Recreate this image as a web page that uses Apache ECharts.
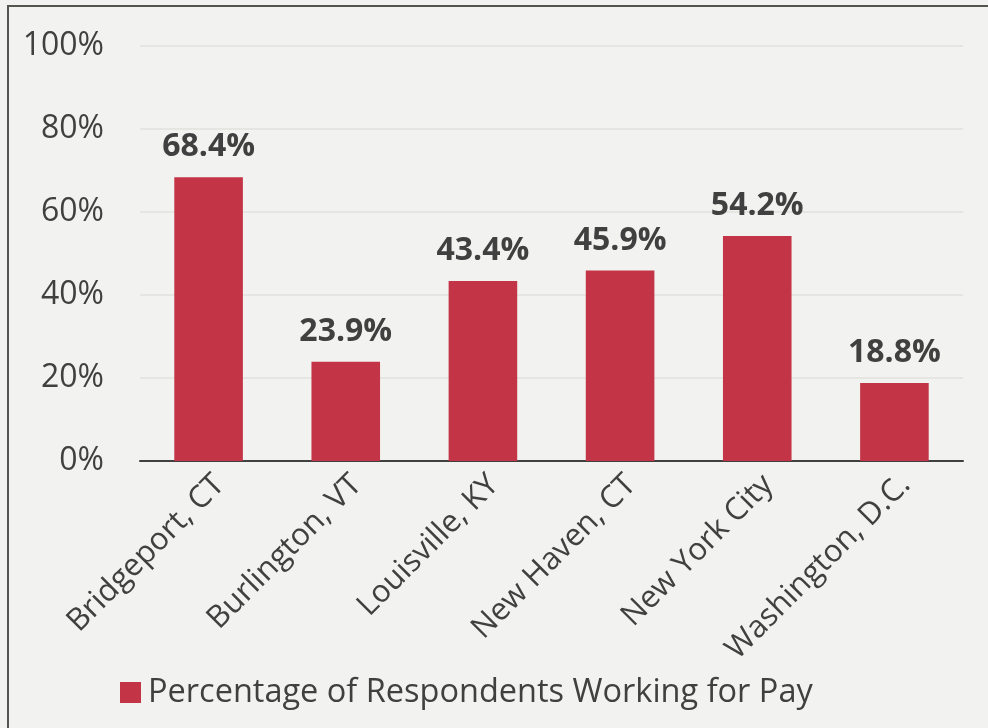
<!DOCTYPE html>
<html><head><meta charset="utf-8">
<script src="https://cdn.jsdelivr.net/npm/echarts@6/dist/echarts.min.js"></script>
<style>html,body{margin:0;padding:0;background:#f2f2f0}#c{width:988px;height:728px}</style>
</head><body><div id="c"></div>
<script>
const categories = ["Bridgeport, CT","Burlington, VT","Louisville, KY","New Haven, CT","New York City","Washington, D.C."];
const values = [68.4, 23.9, 43.4, 45.9, 54.2, 18.8];
const seriesName = "Percentage of Respondents Working for Pay";
const yTicks = [0, 20, 40, 60, 80, 100];

const font = "Open Sans";
const chart = echarts.init(document.getElementById('c'));
chart.setOption({
  backgroundColor: '#f2f2f0',
  animation: false,
  graphic: [{type:'rect', shape:{x:8, y:6, width:1000, height:740}, style:{fill:'none', stroke:'#555550', lineWidth:2}, z:-1}],
  grid: {left:140, right:25, top:46, bottom:267},
  legend: {top:671, left:115, itemWidth:21, itemHeight:21, itemGap:8,
    textStyle:{fontFamily:font, fontSize:32.5, color:'#404040', padding:[0,0,0,2]}, data:[seriesName], icon:'rect'},
  xAxis: {type:'category', data:categories,
    axisLine:{lineStyle:{color:'#404040', width:2}}, axisTick:{show:false},
    axisLabel:{rotate:45, fontFamily:font, fontSize:31, color:'#404040', margin:8, interval:0, verticalAlign:'top'}},
  yAxis: {type:'value', min:0, max:100, interval:20,
    axisLabel:{formatter: v => v + '%', fontFamily:font, fontSize:32, color:'#404040', margin:36},
    splitLine:{lineStyle:{color:'#e0e0de', width:1.5}}, axisLine:{show:false}, axisTick:{show:false}},
  series: [{name:seriesName, type:'bar', data:values, barWidth:'50%',
    itemStyle:{color:'#c33446'},
    label:{show:true, position:'top', distance:14, formatter: p => p.value.toFixed(1) + '%',
      fontFamily:font, fontSize:32, fontWeight:'bold', color:'#404040'}}]
});
</script></body></html>
